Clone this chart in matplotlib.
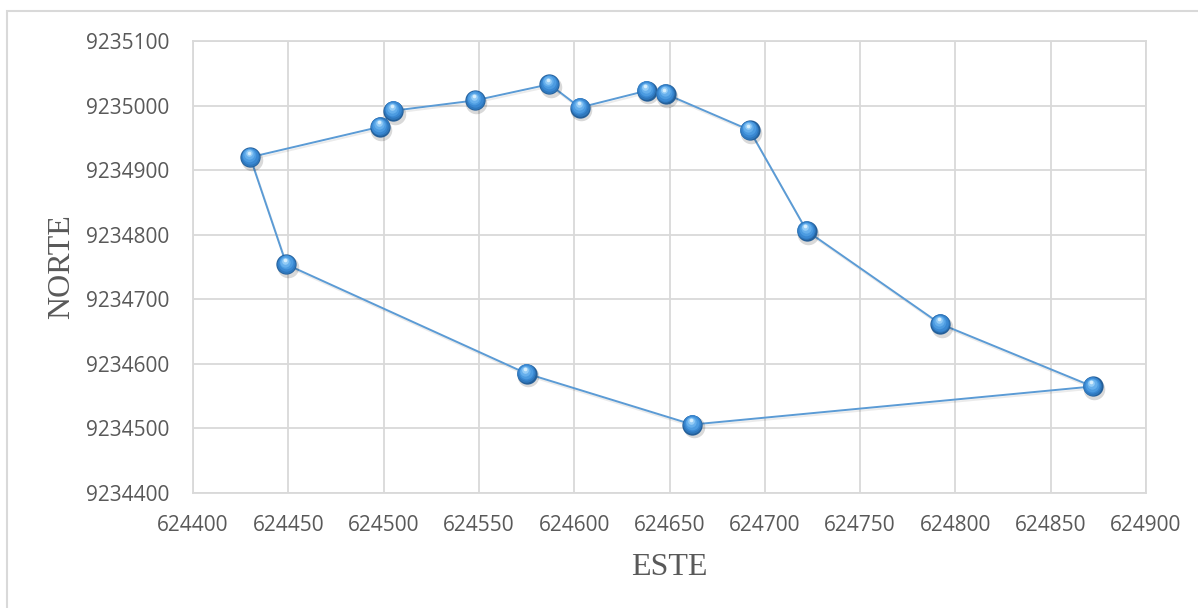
import numpy as np
import matplotlib.pyplot as plt
import matplotlib.transforms as mtransforms
import matplotlib.patheffects as pe
from matplotlib.patches import Rectangle

# polygon vertices (UTM), last point closes the ring
este = [624430, 624498, 624505, 624548, 624587, 624603, 624638, 624648,
        624692, 624722, 624792, 624872, 624662, 624575, 624449, 624430]
norte = [9234920, 9234967, 9234992, 9235008, 9235033, 9234997, 9235023, 9235018,
         9234962, 9234806, 9234662, 9234565, 9234506, 9234585, 9234754, 9234920]

xticks = np.arange(624400, 624901, 50)
yticks = np.arange(9234400, 9235101, 100)

fig = plt.figure(figsize=(11.98, 6.08), dpi=100)
ax = fig.add_axes([193 / 1198, 115 / 608, 953 / 1198, 452 / 608])

# light frame around the chart area
fig.patches.append(Rectangle((7 / 1198, -0.05), 1.1, 597 / 608 + 0.05,
                             transform=fig.transFigure, fill=False,
                             edgecolor='#d9d9d9', linewidth=1.5))

ax.plot(este, norte, color='#5b9bd5', linewidth=1.4, zorder=3,
        path_effects=[pe.SimpleLineShadow(offset=(0.8, -1.5), shadow_color='#000000', alpha=0.08),
                      pe.Normal()])

def shifted(dx, dy):
    return ax.transData + mtransforms.ScaledTranslation(dx / 72, dy / 72, fig.dpi_scale_trans)

x = este[:-1]
y = norte[:-1]
# soft shadow under each ball
ax.plot(x, y, linestyle='none', marker='o', markersize=15.5, markerfacecolor='#000000',
        markeredgewidth=0, alpha=0.15, zorder=4, transform=shifted(1.0, -2.0))
# shaded sphere built from stacked discs
layers = [(14.6, '#245f99', 0.0, 0.0),
          (13.4, '#2f78bd', -0.2, 0.4),
          (11.8, '#3a88d2', -0.4, 0.9),
          (9.8, '#4c9be0', -0.6, 1.4),
          (7.4, '#66afec', -0.8, 2.0),
          (4.8, '#94ccf6', -0.9, 2.7),
          (2.6, '#d6eefd', -0.9, 3.2)]
for ms, col, dx, dy in layers:
    ax.plot(x, y, linestyle='none', marker='o', markersize=ms, markerfacecolor=col,
            markeredgewidth=0, zorder=5, transform=shifted(dx, dy))

ax.set_xlim(624400, 624900)
ax.set_ylim(9234400, 9235100)
ax.set_xticks(xticks)
ax.set_yticks(yticks)
ax.grid(True, color='#d9d9d9', linewidth=1.3)
ax.set_axisbelow(True)
for s in ax.spines.values():
    s.set_color('#d9d9d9')
    s.set_linewidth(1.3)
ax.tick_params(length=0, labelsize=15, labelcolor='#595959', pad=16)
ax.tick_params(axis='y', pad=17)
for lab in ax.get_xticklabels() + ax.get_yticklabels():
    lab.set_fontfamily('Open Sans')
ax.ticklabel_format(useOffset=False, style='plain')

ax.set_xlabel('ESTE', fontsize=23, family='Liberation Serif', color='#595959', labelpad=12)
ax.set_ylabel('NORTE', fontsize=23, family='Liberation Serif', color='#595959', labelpad=7)

fig.savefig('out.png', dpi=100)
